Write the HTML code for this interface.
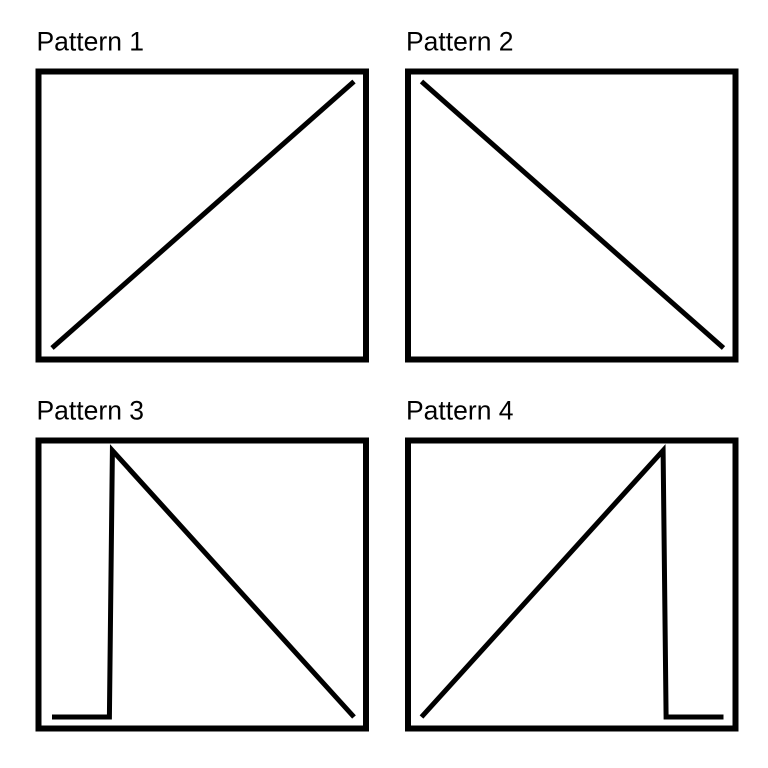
<!DOCTYPE html>
<html><head><meta charset="utf-8"><style>
html,body{margin:0;padding:0;background:#fff;}
svg{display:block;}
</style></head><body>
<svg id="chart" width="768" height="768" xmlns="http://www.w3.org/2000/svg"></svg>
<script>
const titles = ["Pattern 1","Pattern 2","Pattern 3","Pattern 4"];
const p1x = [0, 1];
const p1y = [0, 1];
const p2x = [0, 1];
const p2y = [1, 0];
const p3x = [0, 0.19, 0.2, 1];
const p3y = [0, 0, 1, 0];
const p4x = [0, 0.8, 0.81, 1];
const p4y = [0, 1, 0, 0];
const series = [[p1x,p1y],[p2x,p2y],[p3x,p3y],[p4x,p4y]];

const NS = "http://www.w3.org/2000/svg";
const svg = document.getElementById('chart');
const panels = [
  {x:38.5, y:71.5}, {x:408, y:71.5},
  {x:38.5, y:440.5}, {x:408, y:440.5}
];
const W = 327.5, H = 288;
function mk(tag, attrs){const e=document.createElementNS(NS,tag);for(const k in attrs)e.setAttribute(k,attrs[k]);svg.appendChild(e);return e;}
panels.forEach((p,i)=>{
  const t = mk('text',{x:p.x-2,y:p.y-21,'font-family':'Liberation Sans, Arial, sans-serif','font-size':'26.5',fill:'#000'});
  t.textContent = titles[i];
  
  
  const r = mk('rect',{x:p.x,y:p.y,width:W,height:H,fill:'none',stroke:'#000','stroke-width':6});
  
  
  const sx = v => p.x + 13.5 + v*(W-25.5);
  const sy = v => p.y + H - 11.5 - v*(H-21.5);
  const [xs,ys] = series[i];
  const pts = xs.map((v,j)=>sx(v).toFixed(1)+','+sy(ys[j]).toFixed(1)).join(' ');
  const l = mk('polyline',{points:pts,fill:'none',stroke:'#000','stroke-width':5,'stroke-linejoin':'miter'});
  
  
});
</script>
</body></html>
